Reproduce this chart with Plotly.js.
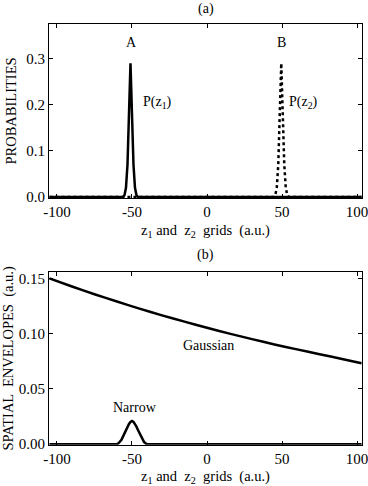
<!DOCTYPE html>
<html>
<head>
<meta charset="utf-8">
<script src="https://cdn.plot.ly/plotly-3.0.1.min.js"></script>
<style>
  html, body { margin: 0; padding: 0; background: #fff; }
  #chart { width: 368px; height: 486px; }
</style>
</head>
<body>
<div id="chart"></div>
<script>
// Panel (a): probability peaks
const p1X = [-105, -56, -55, -54, -53, -52, -51, -50, -49, -48, -47, -46, 103];
const p1Y = [0, 0, 0.004, 0.02, 0.07, 0.18, 0.29, 0.18, 0.07, 0.02, 0.004, 0, 0];
const p2X = [-105, 44.5, 45.5, 46.5, 47.5, 48.5, 49.5, 50.5, 51.5, 52.5, 53.5, 54.5, 103];
const p2Y = [0, 0, 0.004, 0.02, 0.07, 0.18, 0.29, 0.18, 0.07, 0.02, 0.004, 0, 0];

// Panel (b): spatial envelopes
const gaussX = [-105, -90, -75, -60, -45, -30, -15, 0, 15, 30, 45, 60, 75, 90, 103];
const gaussY = [0.150, 0.1426, 0.1356, 0.129, 0.1226, 0.1165, 0.1108, 0.1053, 0.1000, 0.0950, 0.0902, 0.0857, 0.0813, 0.0771, 0.0732];
const narrowX = [-105, -60, -59, -58, -57, -56, -55, -54, -53, -52, -51, -50, -49, -48, -47, -46, -45, -44, -43, -42, -41, -40, 103];
const narrowY = [0, 0, 0.0008, 0.002, 0.004, 0.0068, 0.0098, 0.0128, 0.0158, 0.0183, 0.0201, 0.021, 0.0201, 0.0183, 0.0158, 0.0128, 0.0098, 0.0068, 0.004, 0.002, 0.0008, 0, 0];

const xTicks = [-100, -50, 0, 50, 100];
const yTicksA = [0, 0.1, 0.2, 0.3];
const yTicksB = [0, 0.05, 0.10, 0.15];

const fam = 'Liberation Serif, Times New Roman, serif';
const tickFont = { family: fam, size: 15, color: '#000' };
const titleFont = { family: fam, size: 14.5, color: '#000' };
const textFont = { family: fam, size: 14, color: '#000' };
const xTitle = 'z<sub>1</sub> and  z<sub>2</sub>  grids  (a.u.)';

const axisBase = {
    showline: true, linecolor: '#000', linewidth: 1, mirror: 'ticks',
    ticks: 'inside', ticklen: 4, tickcolor: '#000', tickwidth: 1,
    showgrid: false, zeroline: false, tickfont: tickFont,
    ticklabeloverflow: 'allow'
};

const traces = [
    { x: p1X, y: p1Y, xaxis: 'x', yaxis: 'y', mode: 'lines',
      line: { color: '#000', width: 2.5 } },
    { x: p2X, y: p2Y, xaxis: 'x', yaxis: 'y', mode: 'lines',
      line: { color: '#000', width: 2.5, dash: 'dot' } },
    { x: gaussX, y: gaussY, xaxis: 'x2', yaxis: 'y2', mode: 'lines',
      line: { color: '#000', width: 2.5, shape: 'spline', smoothing: 0.5 } },
    { x: narrowX, y: narrowY, xaxis: 'x2', yaxis: 'y2', mode: 'lines',
      line: { color: '#000', width: 2.5 } }
];

// plain text label helper
function label(text, xref, yref, x, y) {
    return { text, xref, yref, x, y, xanchor: 'center', yanchor: 'middle', showarrow: false, font: textFont };
}

const layout = {
    width: 368, height: 486,
    paper_bgcolor: '#fff', plot_bgcolor: '#fff',
    font: textFont,
    showlegend: false,
    margin: { t: 0, r: 6, b: 0, l: 49 },
    xaxis: { ...axisBase, domain: [0, 1], anchor: 'y', range: [-105.3, 103.3],
             tickvals: xTicks, ticktext: xTicks.map(String),
             title: { text: xTitle, font: titleFont, standoff: 5 } },
    yaxis: { ...axisBase, domain: [0.5926, 0.9506], anchor: 'x', range: [-0.002, 0.375],
             tickvals: yTicksA, ticktext: ['0.0', '0.1', '0.2', '0.3'],
             title: { text: 'PROBABILITIES', font: titleFont, standoff: 6 } },
    xaxis2: { ...axisBase, domain: [0, 1], anchor: 'y2', range: [-105.3, 103.3],
              tickvals: xTicks, ticktext: xTicks.map(String),
              title: { text: xTitle, font: titleFont, standoff: 5 } },
    yaxis2: { ...axisBase, domain: [0.085, 0.4403], anchor: 'x2', range: [-0.0005, 0.1557],
              tickvals: yTicksB, ticktext: ['0.00', '0.05', '0.10', '0.15'],
              title: { text: 'SPATIAL  ENVELOPES  (a.u.)', font: titleFont, standoff: 2 } },
    annotations: [
        label('(a)', 'paper', 'paper', 0.5, 1 - 9 / 486),
        label('(b)', 'paper', 'paper', 0.5, 1 - 255 / 486),
        label('A', 'x', 'y', -50, 0.334),
        label('B', 'x', 'y', 49.5, 0.334),
        label('P(z<sub>1</sub>)', 'x', 'y', -33, 0.205),
        label('P(z<sub>2</sub>)', 'x', 'y', 64, 0.205),
        label('Gaussian', 'x2', 'y2', 1, 0.089),
        label('Narrow', 'x2', 'y2', -48, 0.033)
    ]
};

Plotly.newPlot('chart', traces, layout, { displayModeBar: false, staticPlot: true });
</script>
</body>
</html>
